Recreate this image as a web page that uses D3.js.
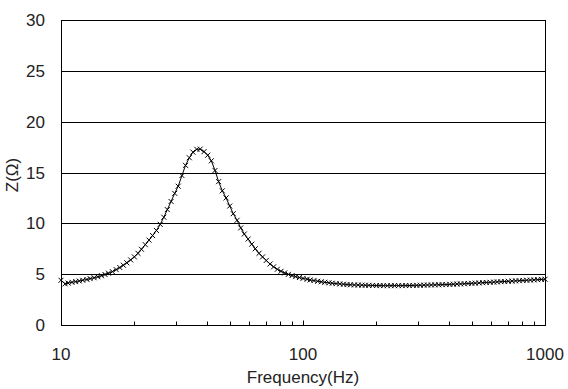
<!DOCTYPE html>
<html>
<head>
<meta charset="utf-8">
<script src="https://cdn.jsdelivr.net/npm/d3@7"></script>
<style>
  html, body { margin: 0; padding: 0; background: #fff; }
  svg { display: block; }
  text { font-family: "Liberation Sans", Arial, sans-serif; fill: #222; }
</style>
</head>
<body>
<svg id="chart" width="568" height="389"></svg>
<script>
// Frequencies (Hz)
const frequency = [
  10, 10.4, 10.7, 11.1, 11.5, 11.9, 12.3, 12.8, 13.2, 13.7, 14.2, 14.7, 15.2, 15.7, 16.3, 16.9,
  17.5, 18.1, 18.7, 19.4, 20.1, 20.8, 21.5, 22.3, 23.1, 23.9, 24.8, 25.7, 26.6, 27.5, 28.5, 29.5,
  30.5, 31.6, 32.7, 33.9, 35.1, 36.4, 37.6, 39.0, 40.4, 41.8, 43.3, 44.8, 46.4, 48.1, 49.8, 51.5,
  53.4, 55.3, 57.2, 59.3, 61.4, 63.5, 65.8, 68.1, 70.5, 73.1, 75.6, 78.3, 81.1, 84.0, 87.0, 90.1,
  93.3, 96.6,
  100, 104, 107, 111, 115, 119, 123, 128, 132, 137, 142, 147, 152, 157, 163, 169,
  175, 181, 187, 194, 201, 208, 215, 223, 231, 239, 248, 257, 266, 275, 285, 295,
  305, 316, 327, 339, 351, 364, 376, 390, 404, 418, 433, 448, 464, 481, 498, 515,
  534, 553, 572, 593, 614, 635, 658, 681, 705, 731, 756, 783, 811, 840, 870, 901,
  933, 966, 1000
];
// Impedance Z (ohm)
const impedance = [
  4.4, 4.05, 4.12, 4.2, 4.27, 4.33, 4.4, 4.48, 4.56, 4.65, 4.75, 4.85, 4.97, 5.1, 5.25, 5.45,
  5.65, 5.88, 6.12, 6.4, 6.7, 7.05, 7.45, 7.9, 8.35, 8.8, 9.3, 9.9, 10.6, 11.35, 12.15, 12.95,
  13.65, 14.7, 15.7, 16.45, 17.0, 17.28, 17.3, 17.05, 16.7, 16.15, 15.2, 14.1, 13.2, 12.5, 11.7, 10.95,
  10.3, 9.55, 8.95, 8.45, 7.95, 7.5, 7.05, 6.7, 6.35, 6.0, 5.72, 5.48, 5.28, 5.12, 4.98, 4.86,
  4.76, 4.67,
  4.58, 4.5, 4.43, 4.37, 4.3, 4.25, 4.2, 4.15, 4.11, 4.07, 4.04, 4.01, 3.98, 3.96, 3.94, 3.93,
  3.92, 3.91, 3.9, 3.89, 3.88, 3.88, 3.87, 3.87, 3.87, 3.87, 3.87, 3.87, 3.88, 3.88, 3.89, 3.9,
  3.91, 3.92, 3.93, 3.94, 3.95, 3.96, 3.97, 3.98, 4.0, 4.01, 4.03, 4.04, 4.06, 4.08, 4.1, 4.12,
  4.14, 4.16, 4.18, 4.2, 4.22, 4.24, 4.26, 4.28, 4.3, 4.32, 4.34, 4.36, 4.38, 4.4, 4.42, 4.44,
  4.46, 4.48, 4.5
];
const yTicks = [0, 5, 10, 15, 20, 25, 30];
const xLabelTicks = [10, 100, 1000];
const xMinorTicks = [20, 30, 40, 50, 60, 70, 80, 90, 200, 300, 400, 500, 600, 700, 800, 900];
const xTitle = "Frequency(Hz)";
const yTitle = "Z(Ω)";

const svg = d3.select("#chart");
const L = 61, R = 545, T = 20, B = 325;
const x = d3.scaleLog().domain([10, 1000]).range([L, R]);
const y = d3.scaleLinear().domain([0, 30]).range([B, T]);
const px = v => Math.round(v) + 0.5;

// gridlines
svg.append("g").selectAll("line").data(yTicks).join("line")
  .attr("x1", px(L)).attr("x2", px(R))
  .attr("y1", d => px(y(d))).attr("y2", d => px(y(d)))
  .attr("stroke", "#000").attr("stroke-width", 1);

// frame
svg.append("rect")
  .attr("x", px(L)).attr("y", px(T))
  .attr("width", Math.round(R) - Math.round(L)).attr("height", Math.round(B) - Math.round(T))
  .attr("fill", "none").attr("stroke", "#000").attr("stroke-width", 1);

// x ticks (inward)
svg.append("g").selectAll("line").data(xMinorTicks).join("line")
  .attr("x1", d => px(x(d))).attr("x2", d => px(x(d)))
  .attr("y1", px(B)).attr("y2", px(B) - 4)
  .attr("stroke", "#000");
svg.append("g").selectAll("line").data(xLabelTicks).join("line")
  .attr("x1", d => px(x(d))).attr("x2", d => px(x(d)))
  .attr("y1", px(B)).attr("y2", px(B) - 5)
  .attr("stroke", "#000");

// y labels
svg.append("g").selectAll("text").data(yTicks).join("text")
  .attr("x", 45).attr("y", d => y(d) + 6)
  .attr("text-anchor", "end").attr("font-size", 17)
  .text(d => d);

// x labels
svg.append("g").selectAll("text").data(xLabelTicks).join("text")
  .attr("x", d => x(d)).attr("y", 360)
  .attr("text-anchor", "middle").attr("font-size", 17)
  .text(d => d);

// titles
svg.append("text").attr("x", 303).attr("y", 383)
  .attr("text-anchor", "middle").attr("font-size", 17).text(xTitle);
svg.append("text").attr("transform", "translate(18,175) rotate(-90)")
  .attr("text-anchor", "middle").attr("font-size", 17).text(yTitle);

// data line
const pts = frequency.map((f, i) => [f, impedance[i]]);
svg.append("path").datum(pts)
  .attr("d", d3.line().x(d => x(d[0])).y(d => y(d[1])))
  .attr("fill", "none").attr("stroke", "#000").attr("stroke-width", 1);

// markers
svg.append("g").selectAll("path").data(pts).join("path")
  .attr("transform", d => `translate(${x(d[0])},${y(d[1])})`)
  .attr("d", "M-2.5,-2.5L2.5,2.5M-2.5,2.5L2.5,-2.5")
  .attr("stroke", "#000").attr("stroke-width", 1).attr("fill", "none");
</script>
</body>
</html>
